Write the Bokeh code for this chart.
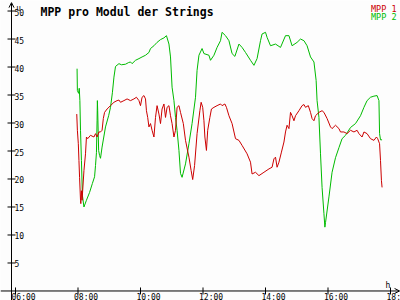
import math
from bokeh.plotting import figure
from bokeh.models import Range1d, Label, Arrow, OpenHead
from bokeh.core.properties import value
from bokeh.embed import file_html
from bokeh.resources import INLINE

# ---- data (time in decimal hours, voltage in V) ----
mpp2_t = [7.97, 7.98, 8.02, 8.04, 8.06, 8.08, 8.11, 8.14, 8.19, 8.27,
          8.37, 8.46, 8.53, 8.56, 8.59, 8.61, 8.62, 8.63, 8.66, 8.69,
          8.72, 8.77, 8.88, 8.98, 9.04, 9.10, 9.15, 9.20, 9.31, 9.39,
          9.52, 9.62, 9.68, 9.73, 9.84, 9.95, 10.05, 10.16, 10.27, 10.32,
          10.43, 10.53, 10.64, 10.75, 10.83, 10.91, 10.96, 11.01, 11.07, 11.12,
          11.17, 11.23, 11.28, 11.33, 11.44, 11.55, 11.65, 11.76, 11.81, 11.87,
          11.97, 12.03, 12.19, 12.24, 12.35, 12.45, 12.56, 12.61, 12.72, 12.83,
          12.93, 13.02, 13.15, 13.25, 13.36, 13.52, 13.63, 13.73, 13.84, 13.89,
          14.00, 14.05, 14.16, 14.32, 14.48, 14.64, 14.75, 14.85, 15.01, 15.12,
          15.23, 15.33, 15.44, 15.55, 15.62, 15.65, 15.71, 15.76, 15.81, 15.87,
          15.90, 15.92, 16.03, 16.13, 16.24, 16.35, 16.45, 16.56, 16.72, 16.88,
          17.04, 17.15, 17.25, 17.36, 17.47, 17.57, 17.63, 17.65, 17.68, 17.73]
mpp2_v = [39.7, 35.8, 35.3, 36.2, 34.0, 28.7, 23.3, 17.1, 15.0, 16.2,
          17.6, 19.2, 20.4, 22.4, 24.7, 30.4, 34.0, 32.2, 25.1, 24.2,
          23.7, 25.7, 29.3, 31.3, 32.8, 35.4, 38.2, 40.1, 40.6, 40.4,
          40.5, 40.8, 40.9, 40.6, 41.2, 41.5, 41.8, 42.1, 42.6, 43.3,
          43.8, 44.4, 44.9, 45.2, 45.6, 44.1, 41.8, 36.4, 34.0, 31.0,
          28.7, 25.1, 21.0, 20.3, 22.7, 26.3, 29.9, 34.6, 39.4, 42.1,
          43.3, 42.4, 42.1, 41.2, 42.1, 43.5, 44.7, 46.2, 45.6, 44.7,
          42.4, 41.9, 44.1, 43.5, 42.6, 41.2, 40.3, 41.5, 44.7, 45.9,
          46.2, 45.3, 43.8, 44.1, 43.5, 45.6, 45.6, 43.8, 44.4, 45.0,
          44.7, 43.8, 41.8, 40.9, 37.6, 34.0, 31.0, 24.5, 18.5, 13.8,
          11.4, 12.2, 16.8, 21.2, 23.8, 25.6, 27.2, 27.8, 29.2, 29.9,
          31.3, 32.8, 34.0, 34.6, 34.8, 34.9, 34.0, 28.1, 27.0, 27.0]

mpp1_t = [7.96, 7.98, 8.01, 8.03, 8.05, 8.08, 8.09, 8.11, 8.13, 8.19,
          8.24, 8.27, 8.31, 8.40, 8.51, 8.56, 8.61, 8.67, 8.72, 8.77,
          8.81, 8.85, 8.93, 9.04, 9.15, 9.25, 9.31, 9.36, 9.47, 9.57,
          9.68, 9.79, 9.87, 9.95, 10.00, 10.05, 10.11, 10.16, 10.19, 10.23,
          10.27, 10.32, 10.37, 10.43, 10.48, 10.53, 10.59, 10.64, 10.69, 10.75,
          10.80, 10.85, 10.91, 10.96, 11.01, 11.07, 11.12, 11.17, 11.23, 11.28,
          11.37, 11.44, 11.55, 11.62, 11.67, 11.73, 11.81, 11.90, 11.94, 11.99,
          12.03, 12.06, 12.11, 12.15, 12.22, 12.27, 12.35, 12.45, 12.56, 12.61,
          12.70, 12.75, 12.83, 12.93, 13.04, 13.15, 13.25, 13.41, 13.52, 13.57,
          13.68, 13.79, 13.95, 14.11, 14.21, 14.27, 14.32, 14.37, 14.43, 14.51,
          14.59, 14.64, 14.69, 14.75, 14.80, 14.85, 14.91, 14.96, 15.07, 15.17,
          15.23, 15.28, 15.37, 15.44, 15.49, 15.55, 15.60, 15.71, 15.81, 15.87,
          15.97, 16.08, 16.13, 16.24, 16.35, 16.40, 16.51, 16.61, 16.72, 16.83,
          16.93, 16.99, 17.09, 17.15, 17.25, 17.36, 17.47, 17.55, 17.59, 17.65,
          17.68, 17.71, 17.73]
mpp1_v = [31.6, 28.7, 26.3, 23.3, 20.3, 16.2, 15.6, 17.9, 16.2, 21.5,
          24.5, 27.5, 27.2, 27.8, 27.5, 28.1, 27.5, 28.4, 28.4, 28.7,
          30.8, 31.9, 32.5, 33.1, 33.7, 34.0, 34.1, 33.7, 34.0, 34.3,
          34.0, 34.3, 34.6, 34.0, 33.1, 34.6, 34.9, 34.3, 32.2, 31.0,
          29.3, 29.9, 28.7, 27.5, 31.0, 33.1, 31.6, 29.9, 32.5, 33.4,
          31.0, 32.8, 33.1, 31.3, 29.9, 27.5, 28.7, 32.8, 33.1, 31.9,
          29.9, 26.9, 23.9, 21.5, 19.9, 22.4, 28.1, 32.2, 33.7, 32.8,
          30.4, 27.5, 25.1, 28.7, 31.0, 32.5, 32.8, 33.1, 33.4, 33.1,
          33.4, 32.8, 31.3, 29.9, 27.2, 26.9, 26.0, 24.5, 23.0, 20.9,
          21.2, 20.6, 21.2, 21.8, 22.1, 23.6, 23.9, 22.1, 23.0, 24.8,
          26.6, 28.4, 29.6, 29.0, 31.9, 31.3, 30.4, 31.3, 32.2, 33.1,
          33.3, 32.8, 33.1, 31.9, 30.8, 30.4, 31.3, 31.9, 32.2, 31.9,
          30.8, 29.3, 29.0, 29.6, 29.0, 28.4, 28.4, 28.1, 28.7, 28.4,
          28.7, 28.1, 27.5, 28.4, 28.1, 27.2, 26.9, 27.5, 27.2, 26.3,
          23.3, 19.7, 18.5]

x_ticks = [6, 8, 10, 12, 14, 16, 18]
x_tick_labels = ["06:00", "08:00", "10:00", "12:00", "14:00", "16:00", "18:00"]
y_ticks = [5, 10, 15, 20, 25, 30, 35, 40, 45, 50]
y_tick_labels = ["5", "10", "15", "20", "25", "30", "35", "40", "45", "50"]

title = "MPP pro Modul der Strings"
series_names = ["MPP 1", "MPP 2"]

RED = "#cc0000"
GREEN = "#00bb00"
FONT = "DejaVu Sans Mono"
BG = "#fdfdfd"

X0, X1 = 5.52, 18.32
Y0, Y1 = -1.70, 51.88
YAXIS_X = 5.872

p = figure(width=400, height=300, x_range=Range1d(X0, X1), y_range=Range1d(Y0, Y1),
           output_backend="svg", toolbar_location=None,
           x_axis_location=None, y_axis_location=None, min_border=0)
p.xgrid.visible = False
p.ygrid.visible = False
p.outline_line_color = None
p.background_fill_color = BG
p.border_fill_color = BG

# data lines
p.line(mpp2_t, mpp2_v, line_color=GREEN, line_width=1)
p.line(mpp1_t, mpp1_v, line_color=RED, line_width=1)

# axes with arrow heads
p.add_layout(Arrow(end=OpenHead(size=5, line_width=1, line_color="black"),
                   x_start=X0, y_start=0, x_end=18.29, y_end=0,
                   line_color="black", line_width=1))
p.add_layout(Arrow(end=OpenHead(size=5, line_width=1, line_color="black"),
                   x_start=YAXIS_X, y_start=Y0, x_end=YAXIS_X, y_end=51.5,
                   line_color="black", line_width=1))

# tick marks
p.scatter([YAXIS_X] * len(y_ticks), y_ticks, marker="dash", size=8,
          line_color="black", line_width=1)
p.scatter(x_ticks, [0] * len(x_ticks), marker="dash", size=7, angle=math.pi / 2,
          line_color="black", line_width=1)

# tick labels
p.text([YAXIS_X] * len(y_ticks), y_ticks, text=y_tick_labels, x_offset=3, y_offset=1,
       text_font=value(FONT), text_font_size="8px", text_baseline="middle",
       text_align="left", text_color="black")
p.text(x_ticks, [0] * len(x_ticks), text=x_tick_labels, x_offset=-4, y_offset=2,
       text_font=value(FONT), text_font_size="8px", text_baseline="top",
       text_align="left", text_color="black")

# axis unit labels
p.add_layout(Label(x=16, y=292, x_units="screen", y_units="screen", text="U",
                   text_font=FONT, text_font_size="7px", text_color="black",
                   text_baseline="alphabetic"))
p.add_layout(Label(x=385, y=15, x_units="screen", y_units="screen", text="h",
                   text_font=FONT, text_font_size="8px", text_color="black",
                   text_baseline="alphabetic"))

# title
p.add_layout(Label(x=40, y=289, x_units="screen", y_units="screen", text=title,
                   text_font=FONT, text_font_style="bold", text_font_size="11.5px",
                   text_color="black", text_baseline="alphabetic"))

# legend
p.add_layout(Label(x=396, y=292, x_units="screen", y_units="screen", text=series_names[0],
                   text_font=FONT, text_font_size="8.5px", text_color=RED,
                   text_align="right", text_baseline="alphabetic"))
p.add_layout(Label(x=396, y=284, x_units="screen", y_units="screen", text=series_names[1],
                   text_font=FONT, text_font_size="8.5px", text_color=GREEN,
                   text_align="right", text_baseline="alphabetic"))

open("out.html", "w").write(file_html(p, INLINE))
